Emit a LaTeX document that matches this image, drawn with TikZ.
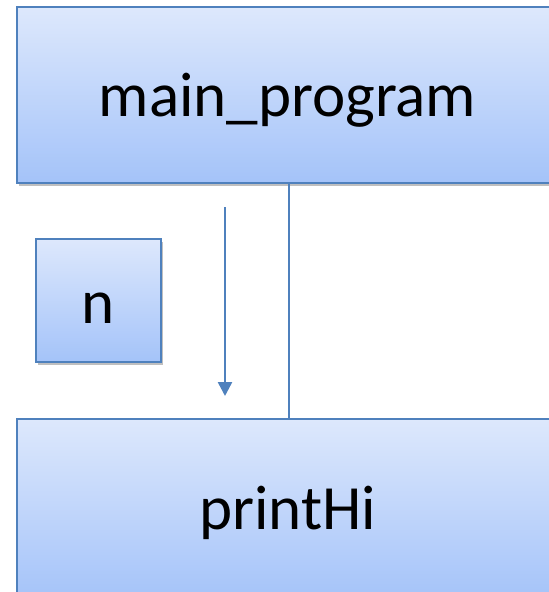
\documentclass[tikz,border=0pt]{standalone}
\usepackage{fontspec}
\setmainfont{Carlito}
\usetikzlibrary{shadows,arrows.meta}
\definecolor{bordblue}{HTML}{4F81BD}
\definecolor{topblue}{HTML}{DDE8FC}
\definecolor{botblue}{HTML}{A4C3F9}
\newcommand{\lowertext}[2]{\raisebox{-#1}[\height][\depth]{#2}}
\tikzset{
  blockbox/.style={draw=bordblue, line width=2pt, top color=topblue, bottom color=botblue,
    drop shadow={shadow xshift=2pt, shadow yshift=-3pt, opacity=0.25, fill=black},
    font=\fontsize{63}{70}\selectfont, inner sep=0pt},
  conn/.style={draw=bordblue, line width=2.5pt},
}
\begin{document}
\begin{tikzpicture}[x=1pt,y=-1pt]
\useasboundingbox (0,0) rectangle (549,592);
\clip (0,0) rectangle (549,592);
\fill[white] (0,0) rectangle (549,592);
\node[blockbox, minimum width=541pt, minimum height=176pt] (main) at (287.5,95) {\lowertext{5pt}{main\_program}};
\node[blockbox, minimum width=541pt, minimum height=182pt] (printhi) at (287.5,510) {\lowertext{3pt}{printHi}};
\node[blockbox, minimum width=125pt, minimum height=123pt] (n) at (98.5,300.5) {\lowertext{8pt}{n}};
\coordinate (a1) at (225,207);
\coordinate (a2) at (225,396);
\draw[conn] (main.south -| 289,0) -- (printhi.north -| 289,0);
\draw[conn, -{Triangle[width=14pt,length=14pt]}] (a1) -- (a2);
\end{tikzpicture}
\end{document}
